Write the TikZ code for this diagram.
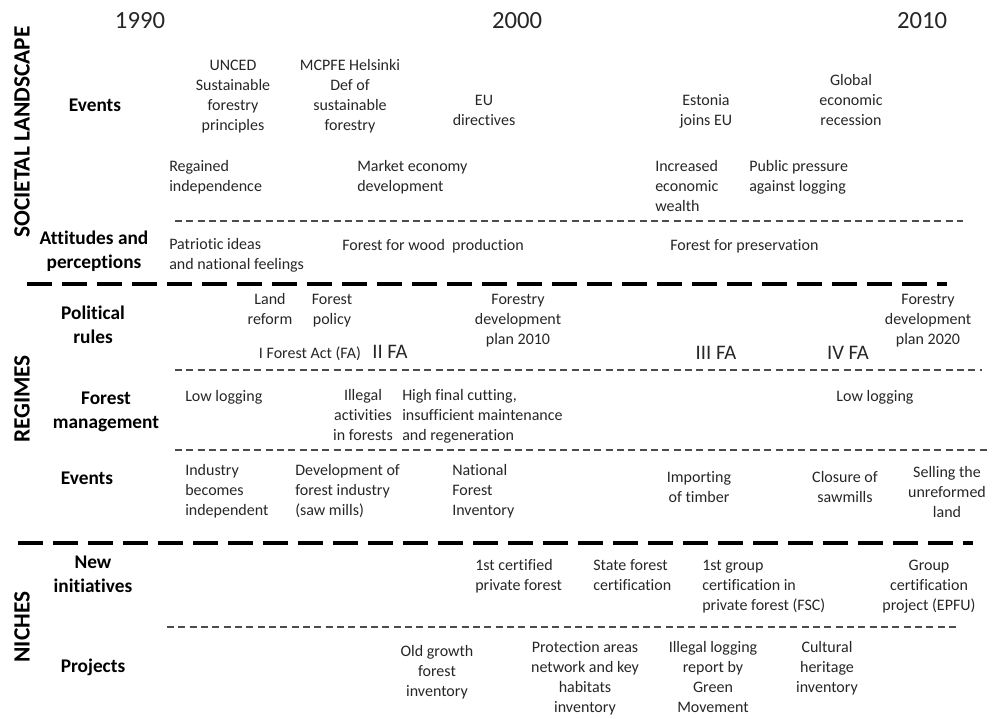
\documentclass[tikz,border=0pt]{standalone}
\usepackage{fontspec}
\setmainfont{Carlito}[Ligatures=CommonOff]
\usepackage{tikz}

\begin{document}
\begin{tikzpicture}[x=0.75pt, y=-0.75pt,
	txt/.style={inner sep=0pt, yshift=-2.2pt, text=black!85, font=\fontsize{12}{15}\selectfont, align=center,
		execute at begin node=\strut, execute at end node=\strut},
	ltxt/.style={txt, anchor=west, align=left},
	row/.style={inner sep=0pt, yshift=-2.2pt, font=\fontsize{14.5}{18}\selectfont\bfseries, align=center,
		execute at begin node=\strut, execute at end node=\strut},
	level/.style={inner sep=0pt, font=\fontsize{17.5}{20}\selectfont\bfseries, rotate=90},
	year/.style={inner sep=0pt, text=black!85, font=\fontsize{18.5}{22}\selectfont},
	act/.style={inner sep=0pt, text=black!85, font=\fontsize{15.5}{18}\selectfont},
	minor/.style={dash pattern=on 5.2pt off 3.3pt, line width=0.8pt, draw=black!70},
	major/.style={dash pattern=on 18.75pt off 7.5pt, line width=3.2pt}]
	\useasboundingbox (0,0) rectangle (993,718);

	% Years
	\node [year] (y1990) at (140,21) {1990};
	\node [year] (y2000) at (517,21) {2000};
	\node [year] (y2010) at (922,21) {2010};

	% Levels and rows
	\node [level] (societal) at (22,132) {SOCIETAL LANDSCAPE};
	\node [level] (regimes)  at (22,399) {REGIMES};
	\node [level] (niches)   at (22,627) {NICHES};
	\node [row] (events1)  at (95,104)  {Events};
	\node [row] (attitude) at (94,250)  {Attitudes and\\perceptions};
	\node [row] (politic)  at (93,325)  {Political\\rules};
	\node [row] (manage)   at (106,411) {Forest\\management};
	\node [row] (events2)  at (87,477)  {Events};
	\node [row] (initiat)  at (93,575)  {New\\initiatives};
	\node [row] (projects) at (93,665)  {Projects};

	% Societal landscape
	\node [txt]  (unced)     at (233,95)  {UNCED\\Sustainable\\forestry\\principles};
	\node [txt]  (mcpfe)     at (350,95)  {MCPFE Helsinki\\Def of\\sustainable\\forestry};
	\node [txt]  (eudir)     at (484,110) {EU\\directives};
	\node [txt]  (estonia)   at (706,110) {Estonia\\joins EU};
	\node [txt]  (recession) at (851,100) {Global\\economic\\recession};
	\node [ltxt] (regained)  at (169,176) {Regained\\independence};
	\node [ltxt] (market)    at (357,176) {Market economy\\development};
	\node [ltxt] (wealth)    at (655,186) {Increased\\economic\\wealth};
	\node [ltxt] (pressure)  at (749,176) {Public pressure\\against logging};
	\node [ltxt] (patriotic) at (169,254) {Patriotic ideas\\and national feelings};
	\node [ltxt] (woodprod)  at (342,244) {Forest for wood~ production};
	\node [ltxt] (preserve)  at (670,244) {Forest for preservation};

	% Regimes
	\node [txt]  (landref)   at (270,309) {Land\\reform};
	\node [txt]  (forpol)    at (332,309) {Forest\\policy};
	\node [txt]  (fa1)       at (310,352) {I Forest Act (FA)};
	\node [act]  (fa2)       at (390,352) {II FA};
	\node [txt]  (plan2010)  at (518,319) {Forestry\\development\\plan 2010};
	\node [act]  (fa3)       at (716,353) {III FA};
	\node [act]  (fa4)       at (848,353) {IV FA};
	\node [txt]  (plan2020)  at (928,319) {Forestry\\development\\plan 2020};
	\node [ltxt] (lowlog1)   at (185,395) {Low logging};
	\node [txt]  (illegal)   at (363,415) {Illegal\\activities\\in forests};
	\node [ltxt] (highcut)   at (402,415) {High final cutting,\\ insufficient maintenance\\and regeneration};
	\node [txt]  (lowlog2)   at (875,395) {Low logging};
	\node [ltxt] (industry)  at (185,490) {Industry\\becomes\\independent};
	\node [ltxt] (sawind)    at (295,490) {Development of\\forest industry\\(saw mills)};
	\node [ltxt] (nfi)       at (452,490) {National\\Forest\\Inventory};
	\node [txt]  (importing) at (699,487) {Importing\\of timber};
	\node [txt]  (closure)   at (845,487) {Closure of\\sawmills};
	\node [txt]  (selling)   at (947,492) {Selling the\\unreformed\\land};

	% Niches
	\node [ltxt] (cert1)     at (475,575) {1st certified\\private forest};
	\node [ltxt] (statecert) at (593,575) {State forest\\certification};
	\node [ltxt] (groupcert) at (702,585) {1st group\\certification in\\private forest (FSC)};
	\node [txt]  (epfu)      at (929,585) {Group\\certification\\project (EPFU)};
	\node [txt]  (oldgrowth) at (437,671) {Old growth\\forest\\inventory};
	\node [txt]  (protect)   at (585,677) {Protection areas\\network and key\\habitats\\inventory};
	\node [txt]  (illrep)    at (713,677) {Illegal logging\\report by\\Green\\Movement};
	\node [txt]  (cultural)  at (827,667) {Cultural\\heritage\\inventory};

	% Separators
	\coordinate (sa1) at (175,221); \coordinate (sa2) at (963,221);
	\coordinate (sb1) at (175,370); \coordinate (sb2) at (982,370);
	\coordinate (sc1) at (175,450); \coordinate (sc2) at (990,450);
	\coordinate (sd1) at (167,627); \coordinate (sd2) at (957,627);
	\coordinate (ma1) at (27,284);  \coordinate (ma2) at (947,284);
	\coordinate (mb1) at (18,543);  \coordinate (mb2) at (973,543);
	\draw [minor] (sa1) -- (sa2);
	\draw [minor] (sb1) -- (sb2);
	\draw [minor] (sc1) -- (sc2);
	\draw [minor] (sd1) -- (sd2);
	\draw [major] (ma1) -- (ma2);
	\draw [major] (mb1) -- (mb2);

\end{tikzpicture}
\end{document}
